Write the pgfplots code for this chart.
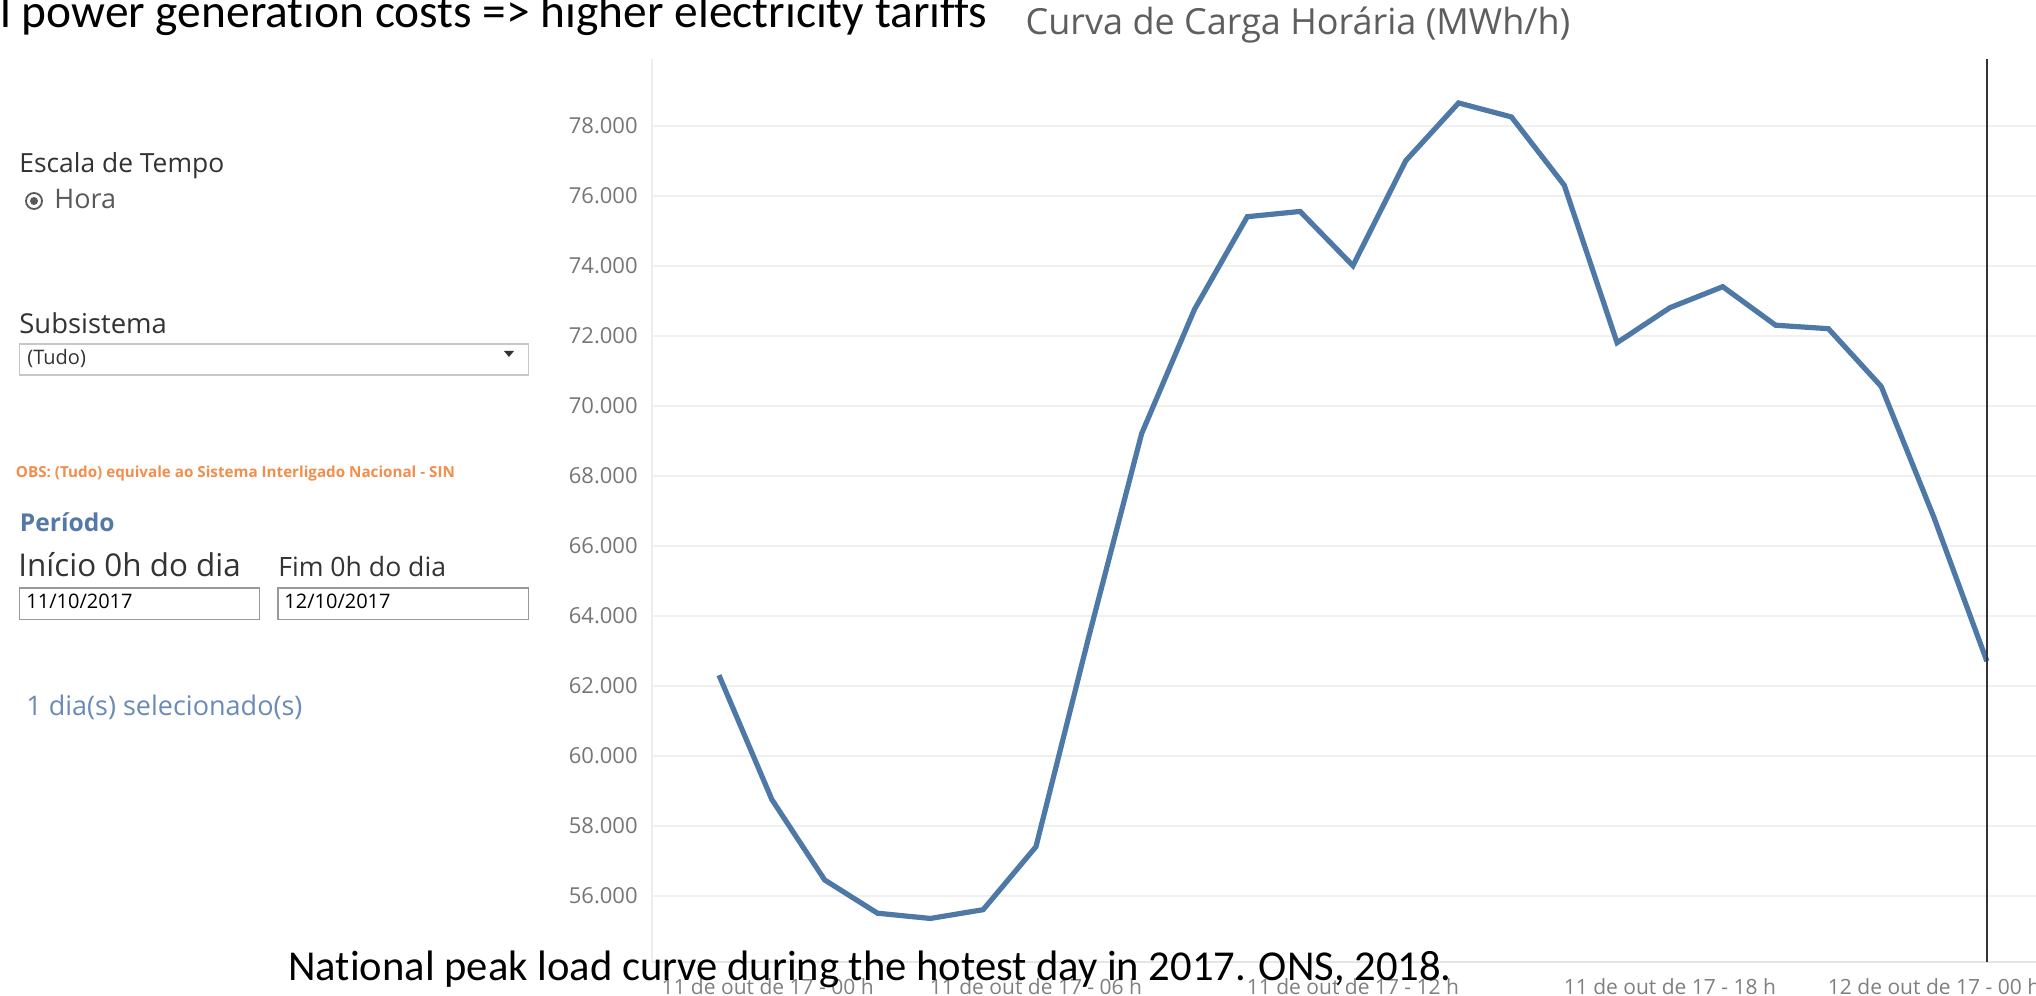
\documentclass[border=0pt]{standalone}
\usepackage{fontspec}
\usepackage{graphicx}
\usepackage{pgfplots}
\pgfplotsset{compat=1.18}
\setmainfont{Open Sans}
\newfontfamily\calib[Ligatures=NoCommon]{Carlito}
\newfontfamily\tabf{Open Sans}
\definecolor{tabblue}{HTML}{4E79A7}
\definecolor{tickgray}{HTML}{767676}
\definecolor{xgray}{HTML}{808080}
\definecolor{titlegray}{HTML}{5E5E5E}
\definecolor{dark}{HTML}{333333}
\definecolor{obsorange}{HTML}{F28E4B}
\definecolor{perblue}{HTML}{5479A6}
\definecolor{selblue}{HTML}{6A8BB5}
\newcommand{\fs}[1]{\fontsize{#1}{#1}\selectfont}
\pgfplotstableread{
h load
0 62300
1 58750
2 56450
3 55500
4 55350
5 55600
6 57400
7 63400
8 69200
9 72750
10 75400
11 75550
12 74000
13 77000
14 78650
15 78250
16 76300
17 71800
18 72800
19 73400
20 72300
21 72200
22 70550
23 66800
24 62700
}\loadtable
\begin{document}
\begin{tikzpicture}
\useasboundingbox (0,0) rectangle (1018pt,498pt);
\fill[white] (0,0) rectangle (1018pt,498pt);
\begin{axis}[
  at={(326pt,17pt)}, anchor=south west,
  scale only axis, width=692pt, height=451.5pt,
  xmin=-1.268, xmax=24.93, ymin=54106, ymax=79906,
  axis x line*=bottom, axis y line*=left,
  x axis line style={draw=black!10, -, line width=0.6pt},
  y axis line style={draw=black!7, -, line width=0.6pt},
  xtick=\empty,
  minor xtick={0,...,24},
  xtick align=outside, minor tick length=3.5pt, major tick length=0pt,
  minor x tick style={draw=black!10, line width=0.6pt},
  ytick={56000,58000,...,78000},
  y tick style={draw=none},
  ymajorgrids, grid style={draw=black!6, line width=0.8pt},
  scaled y ticks=false,
  /pgf/number format/.cd, fixed, precision=0, 1000 sep={.}, assume math mode=true,
  /pgfplots/.cd,
  yticklabel style={font=\tabf\fs{11}, text=tickgray, anchor=east, inner sep=0pt, xshift=-7pt},
  extra x ticks={0.92,6,12,18,23},
  extra x tick labels={11 de out de 17 - 00 h, 11 de out de 17 - 06 h, 11 de out de 17 - 12 h, 11 de out de 17 - 18 h, 12 de out de 17 - 00 h},
  extra x tick style={major tick length=0pt, grid=none, tick style={draw=none},
    xticklabel style={font=\tabf\fs{10.5}, text=xgray, anchor=base, inner sep=0pt, yshift=-16.25pt}},
  clip=false,
]
\addplot[color=tabblue, line width=2.6pt] table[x=h, y=load] {\loadtable};
\addplot[draw=black!80, line width=1pt] coordinates {(24,54106) (24,79906)};
\end{axis}
\begin{scope}[x=0.5pt, y=-0.5pt, yshift=498pt]
  % slide texts
  \node[anchor=base west, inner sep=0pt, font=\calib\fs{23.7}] at (0,28) {l power generation costs => higher electricity tariffs};
  \node[anchor=base west, inner sep=0pt, font=\calib\fs{21.3}] at (288,981) {National peak load curve during the hotest day in 2017. ONS, 2018.};
  % title
  \node[anchor=base, inner sep=0pt, font=\tabf\fs{18}, text=titlegray] at (1298,35) {Curva de Carga Horária (MWh/h)};
  % left panel
  \node[anchor=base west, inner sep=0pt, font=\tabf\fs{13.2}, text=dark] at (19,173) {Escala de Tempo};
  \draw[draw=black!65, line width=0.9pt] (34,201) circle (8);
  \fill[black!65] (34,201) circle (4);
  \node[anchor=base west, inner sep=0pt, font=\tabf\fs{13.5}, text=black!65] at (54,209) {Hora};
  \node[anchor=base west, inner sep=0pt, font=\tabf\fs{13.7}, text=dark] at (19,334) {Subsistema};
  \draw[draw=black!22, line width=0.6pt] (19.5,344) rectangle (528.5,375);
  \node[anchor=base west, inner sep=0pt, font=\tabf\fs{10}, text=dark] at (27,365) {(Tudo)};
  \fill[dark] (504,351) -- (514,351) -- (509,357) -- cycle;
  \node[anchor=base west, inner sep=0pt, font=\tabf\bfseries\fs{7.6}, text=obsorange] at (15.6,478) {OBS: (Tudo) equivale ao Sistema Interligado Nacional - SIN};
  \node[anchor=base west, inner sep=0pt, font=\tabf\bfseries\fs{12.3}, text=perblue] at (19.5,532) {Período};
  \node[anchor=base west, inner sep=0pt, font=\tabf\fs{15.7}, text=dark] at (18,577) {Início 0h do dia};
  \node[anchor=base west, inner sep=0pt, font=\tabf\fs{13.3}, text=dark] at (278,577) {Fim 0h do dia};
  \draw[draw=black!40, line width=0.7pt] (19.5,588) rectangle (259.7,619.4);
  \draw[draw=black!40, line width=0.7pt] (278,588) rectangle (528.5,619.4);
  \node[anchor=base west, inner sep=0pt, font=\tabf\fs{10}, text=black] at (26,609) {11/10/2017};
  \node[anchor=base west, inner sep=0pt, font=\tabf\fs{10}, text=black] at (284,609) {12/10/2017};
  \node[anchor=base west, inner sep=0pt, font=\tabf\fs{13.5}, text=selblue] at (26,716) {1 dia(s) selecionado(s)};
\end{scope}
\end{tikzpicture}
\end{document}
